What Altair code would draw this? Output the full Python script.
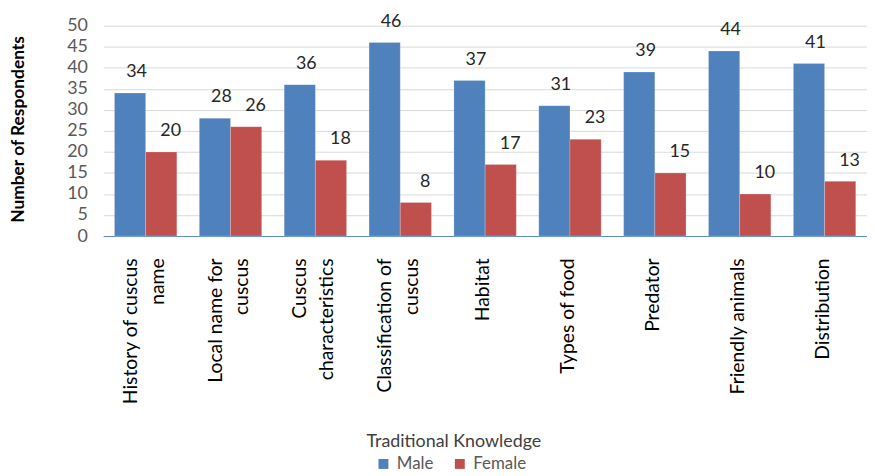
import altair as alt
import pandas as pd

categories = [
    "History of cuscus|name",
    "Local name for|cuscus",
    "Cuscus|characteristics",
    "Classification of|cuscus",
    "Habitat",
    "Types of food",
    "Predator",
    "Friendly animals",
    "Distribution",
]
male = [34, 28, 36, 46, 37, 31, 39, 44, 41]
female = [20, 26, 18, 8, 17, 23, 15, 10, 13]
series = ["Male", "Female"]
y_ticks = list(range(0, 51, 5))

rows = []
for c, m, f in zip(categories, male, female):
    rows.append({"Knowledge": c, "Gender": "Male", "Respondents": m})
    rows.append({"Knowledge": c, "Gender": "Female", "Respondents": f})
df = pd.DataFrame(rows)

FONT = "Lato"

x_enc = alt.X(
    "Knowledge:N",
    sort=categories,
    scale=alt.Scale(paddingInner=0.265, paddingOuter=0.1325),
    axis=alt.Axis(
        title="Traditional Knowledge",
        titleFontSize=18,
        titleFontWeight="normal",
        titleColor="#404040",
        titleX=353,
        titleY=212,
        titleAlign="center",
        titleBaseline="alphabetic",
        labelExpr="split(datum.label, '|')",
        labelAngle=-90,
        labelAlign="right",
        labelBaseline="middle",
        labelPadding=22,
        labelFontSize=19.5,
        labelLineHeight=27,
        labelColor="#000000",
        labelOffset={"condition": {"test": "indexof(datum.value, '|') >= 0", "value": -15}, "value": -2},
        labelLimit=400,
        labelOverlap=False,
        ticks=False,
        domainColor="#5B8AC5",
        domainWidth=1,
        grid=False,
    ),
)
xoff = alt.XOffset("Gender:N", sort=series)
y_enc = alt.Y(
    "Respondents:Q",
    scale=alt.Scale(domain=[0, 50], nice=False),
    axis=alt.Axis(
        values=y_ticks,
        title="Number of Respondents",
        titleFontSize=17.5,
        titleFontWeight="bold",
        titleColor="#000000",
        titleAngle=-90,
        titleX=-85,
        titleY=104,
        titleAlign="center",
        titleBaseline="middle",
        labelFontSize=18,
        labelColor="#595959",
        labelPadding=16,
        labelOverlap=False,
        ticks=False,
        domain=False,
        grid=True,
        gridColor="#D9D9D9",
        gridWidth=1,
    ),
)
color_enc = alt.Color(
    "Gender:N",
    sort=series,
    scale=alt.Scale(domain=series, range=["#4F81BD", "#C0504D"]),
    legend=alt.Legend(
        title=None,
        orient="none",
        legendX=274,
        legendY=433,
        direction="horizontal",
        symbolType="square",
        symbolSize=100,
        symbolStrokeWidth=0,
        labelFontSize=17,
        labelColor="#595959",
        labelOffset=5,
        columnPadding=18,
    ),
)

base = alt.Chart(df).encode(x=x_enc, xOffset=xoff, y=y_enc)

bars = base.mark_bar(stroke="#FFFFFF", strokeWidth=0.6, strokeOpacity=0.35).encode(color=color_enc)

text_m = base.transform_filter(alt.datum.Gender == "Male").mark_text(
    baseline="alphabetic", dy=-16, dx=6.5, fontSize=18, color="#262626"
).encode(text="Respondents:Q")

text_f = base.transform_filter(alt.datum.Gender == "Female").mark_text(
    baseline="alphabetic", dy=-16, dx=9.5, fontSize=18, color="#262626"
).encode(text="Respondents:Q")

chart = (
    alt.layer(bars, text_m, text_f)
    .properties(
        width=770,
        height=212,
        autosize=alt.AutoSizeParams(type="none"),
        padding={"left": 96, "top": 16, "right": 0, "bottom": 240},
    )
    .configure(font=FONT)
    .configure_view(stroke=None)
    .configure_scale(offsetBandPaddingInner=0, offsetBandPaddingOuter=0)
)

chart.save("out.html", embed_options={"renderer": "svg", "actions": False})
